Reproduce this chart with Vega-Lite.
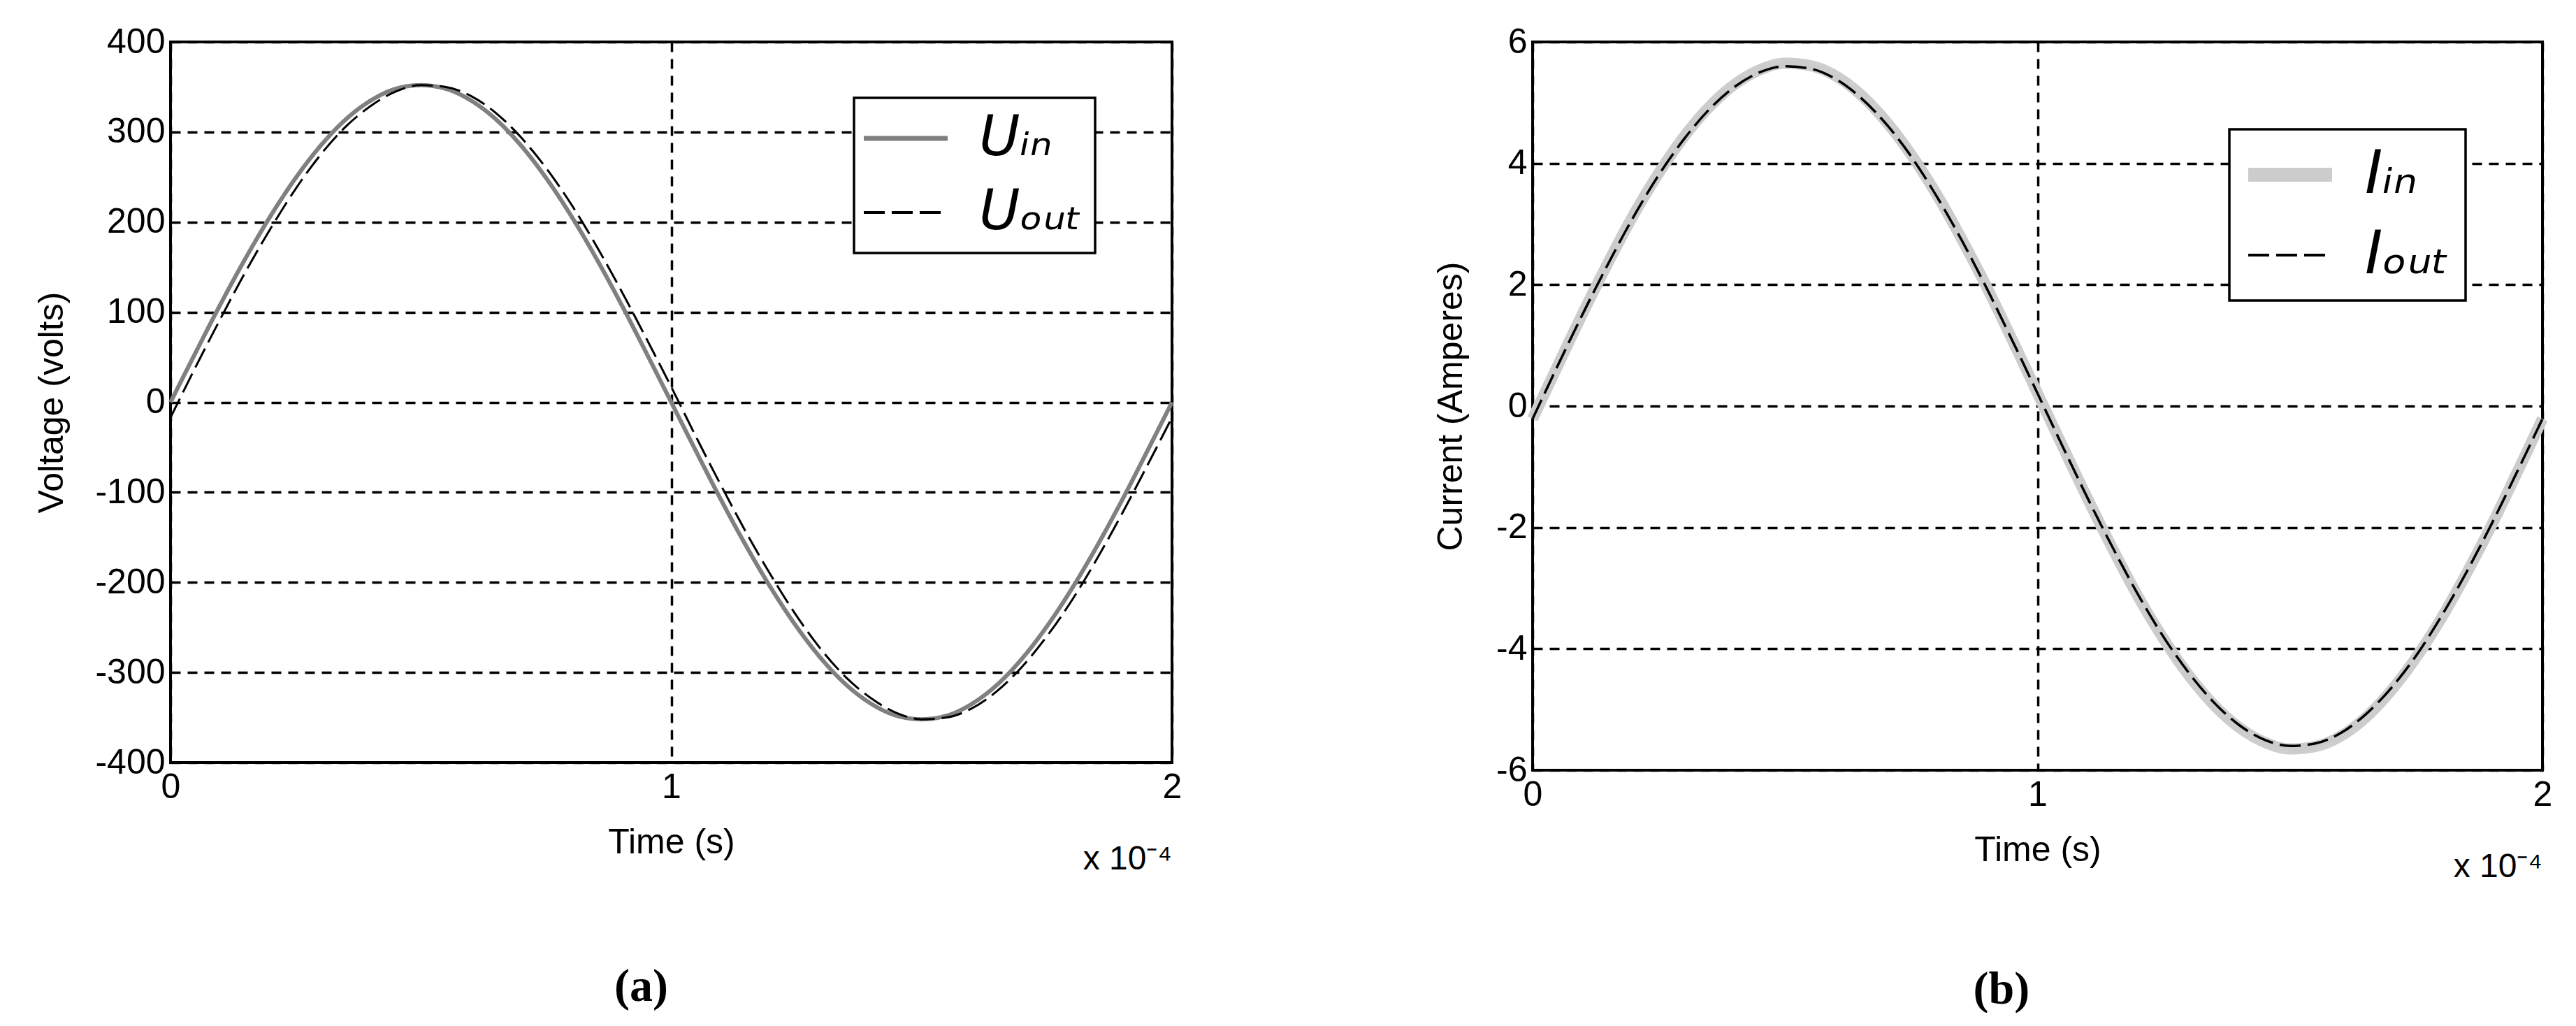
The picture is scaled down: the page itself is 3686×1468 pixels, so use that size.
{
  "$schema": "https://vega.github.io/schema/vega-lite/v6.json",
  "background": "white",
  "padding": {"left": 47, "top": 33, "right": 0, "bottom": 0},
  "spacing": 356,
  "resolve": {"scale": {"stroke": "independent", "strokeDash": "independent", "x": "independent", "y": "independent"}, "legend": {"stroke": "independent", "strokeDash": "independent"}},
  "config": {
    "font": "Liberation Sans",
    "view": {"stroke": "black", "strokeWidth": 4},
    "axis": {
      "labelFont": "Liberation Sans", "labelFontSize": 50, "labelColor": "black",
      "titleFont": "Liberation Sans", "titleFontSize": 50, "titleFontWeight": "normal", "titleColor": "black",
      "ticks": false, "domain": false, "grid": true, "gridColor": "black", "gridDash": [14, 10],
      "gridWidth": 3.5, "gridOpacity": 1, "labelFlush": false, "labelOverlap": false
    }
  },
  "hconcat": [
    {
      "title": {"text": "(a)", "orient": "bottom", "anchor": "middle", "font": "Liberation Serif", "fontSize": 66, "fontWeight": "bold", "color": "black", "offset": 124, "dx": 47},
      "vconcat": [
        {
          "title": {"text": "x 10⁻⁴", "orient": "bottom", "anchor": "end", "frame": "group", "font": "Liberation Sans", "fontSize": 48, "fontWeight": "normal", "color": "black", "offset": -24},
          "width": 1433,
          "height": 1031,
          "data": {"values": [
            {"t":0,"Uin":0,"Uout":-17},
            {"t":0.000005,"Uin":55,"Uout":39},
            {"t":0.00001,"Uin":109,"Uout":93},
            {"t":0.000015,"Uin":160,"Uout":145},
            {"t":0.00002,"Uin":207,"Uout":193},
            {"t":0.000025,"Uin":249,"Uout":237},
            {"t":0.00003,"Uin":285,"Uout":275},
            {"t":0.000035,"Uin":314,"Uout":306},
            {"t":0.00004,"Uin":335,"Uout":329},
            {"t":0.000045,"Uin":348,"Uout":345},
            {"t":0.00005,"Uin":352,"Uout":352},
            {"t":0.000055,"Uin":348,"Uout":350},
            {"t":0.00006,"Uin":335,"Uout":340},
            {"t":0.000065,"Uin":314,"Uout":321},
            {"t":0.00007,"Uin":285,"Uout":294},
            {"t":0.000075,"Uin":249,"Uout":260},
            {"t":0.00008,"Uin":207,"Uout":220},
            {"t":0.000085,"Uin":160,"Uout":174},
            {"t":0.00009,"Uin":109,"Uout":124},
            {"t":0.000095,"Uin":55,"Uout":71},
            {"t":0.0001,"Uin":0,"Uout":17},
            {"t":0.000105,"Uin":-55,"Uout":-39},
            {"t":0.00011,"Uin":-109,"Uout":-93},
            {"t":0.000115,"Uin":-160,"Uout":-145},
            {"t":0.00012,"Uin":-207,"Uout":-193},
            {"t":0.000125,"Uin":-249,"Uout":-237},
            {"t":0.00013,"Uin":-285,"Uout":-275},
            {"t":0.000135,"Uin":-314,"Uout":-306},
            {"t":0.00014,"Uin":-335,"Uout":-329},
            {"t":0.000145,"Uin":-348,"Uout":-345},
            {"t":0.00015,"Uin":-352,"Uout":-352},
            {"t":0.000155,"Uin":-348,"Uout":-350},
            {"t":0.00016,"Uin":-335,"Uout":-340},
            {"t":0.000165,"Uin":-314,"Uout":-321},
            {"t":0.00017,"Uin":-285,"Uout":-294},
            {"t":0.000175,"Uin":-249,"Uout":-260},
            {"t":0.00018,"Uin":-207,"Uout":-220},
            {"t":0.000185,"Uin":-160,"Uout":-174},
            {"t":0.00019,"Uin":-109,"Uout":-124},
            {"t":0.000195,"Uin":-55,"Uout":-71},
            {"t":0.0002,"Uin":0,"Uout":-17}
          ]},
          "transform": [{"fold": ["Uin", "Uout"], "as": ["series", "value"]}],
          "mark": {"type": "line", "interpolate": "monotone"},
          "encoding": {
            "x": {"field": "t", "type": "quantitative", "scale": {"domain": [0, 0.0002], "nice": false},
                  "axis": {"values": [0, 0.0001, 0.0002], "labelExpr": "format(datum.value*10000, '.0f')", "title": "Time (s)", "labelPadding": 10, "titlePadding": 29}},
            "y": {"field": "value", "type": "quantitative", "scale": {"domain": [-400, 400], "nice": false},
                  "axis": {"values": [-400, -300, -200, -100, 0, 100, 200, 300, 400], "labelExpr": "'' + datum.value", "title": "Voltage (volts)", "labelPadding": 8, "titlePadding": 36}},
            "stroke": {"field": "series", "type": "nominal", "scale": {"domain": ["Uin", "Uout"], "range": ["#808080", "#000000"]},
                       "legend": {"orient": "none", "legendX": 978, "legendY": 80, "title": null, "direction": "vertical",
                                  "symbolType": "stroke", "symbolSize": 14400, "symbolOffset": 16, "labelFont": "DejaVu Sans", "labelFontStyle": "italic",
                                  "labelFontSize": 80, "labelColor": "black", "labelOffset": 65, "rowPadding": 26, "padding": 18,
                                  "strokeColor": "black", "fillColor": "white",
                                  "labelExpr": "datum.value === 'Uin' ? 'Uᵢₙ' : 'Uₒᵤₜ'",
                                  "encode": {"legend": {"update": {"strokeWidth": {"value": 3.5}}},
                                             "symbols": {"update": {"strokeWidth": {"signal": "datum.value === 'Uin' ? 7 : 4"},
                                                                    "strokeDash": {"signal": "datum.value === 'Uin' ? [1, 0] : [72, 24]"}}}}}},
            "strokeDash": {"field": "series", "type": "nominal", "scale": {"domain": ["Uin", "Uout"], "range": [[1, 0], [30, 10]]}},
            "strokeWidth": {"condition": {"test": "datum.series === 'Uin'", "value": 6}, "value": 3}
          }
        }
      ]
    },
    {
      "title": {"text": "(b)", "orient": "bottom", "anchor": "middle", "font": "Liberation Serif", "fontSize": 66, "fontWeight": "bold", "color": "black", "offset": 117, "dx": 3},
      "vconcat": [
        {
          "title": {"text": "x 10⁻⁴", "orient": "bottom", "anchor": "end", "frame": "group", "font": "Liberation Sans", "fontSize": 48, "fontWeight": "normal", "color": "black", "offset": -24},
          "width": 1445,
          "height": 1042,
          "data": {"values": [
            {"t":0,"Iin":-0.21,"Iout":-0.21},
            {"t":0.000005,"Iin":0.67,"Iout":0.67},
            {"t":0.00001,"Iin":1.54,"Iout":1.53},
            {"t":0.000015,"Iin":2.37,"Iout":2.35},
            {"t":0.00002,"Iin":3.15,"Iout":3.12},
            {"t":0.000025,"Iin":3.84,"Iout":3.81},
            {"t":0.00003,"Iin":4.44,"Iout":4.40},
            {"t":0.000035,"Iin":4.93,"Iout":4.89},
            {"t":0.00004,"Iin":5.30,"Iout":5.26},
            {"t":0.000045,"Iin":5.54,"Iout":5.50},
            {"t":0.00005,"Iin":5.65,"Iout":5.60},
            {"t":0.000055,"Iin":5.61,"Iout":5.56},
            {"t":0.00006,"Iin":5.44,"Iout":5.39},
            {"t":0.000065,"Iin":5.13,"Iout":5.08},
            {"t":0.00007,"Iin":4.69,"Iout":4.65},
            {"t":0.000075,"Iin":4.14,"Iout":4.11},
            {"t":0.00008,"Iin":3.49,"Iout":3.46},
            {"t":0.000085,"Iin":2.75,"Iout":2.73},
            {"t":0.00009,"Iin":1.95,"Iout":1.93},
            {"t":0.000095,"Iin":1.09,"Iout":1.08},
            {"t":0.0001,"Iin":0.21,"Iout":0.21},
            {"t":0.000105,"Iin":-0.67,"Iout":-0.67},
            {"t":0.00011,"Iin":-1.54,"Iout":-1.53},
            {"t":0.000115,"Iin":-2.37,"Iout":-2.35},
            {"t":0.00012,"Iin":-3.15,"Iout":-3.12},
            {"t":0.000125,"Iin":-3.84,"Iout":-3.81},
            {"t":0.00013,"Iin":-4.44,"Iout":-4.40},
            {"t":0.000135,"Iin":-4.93,"Iout":-4.89},
            {"t":0.00014,"Iin":-5.30,"Iout":-5.26},
            {"t":0.000145,"Iin":-5.54,"Iout":-5.50},
            {"t":0.00015,"Iin":-5.65,"Iout":-5.60},
            {"t":0.000155,"Iin":-5.61,"Iout":-5.56},
            {"t":0.00016,"Iin":-5.44,"Iout":-5.39},
            {"t":0.000165,"Iin":-5.13,"Iout":-5.08},
            {"t":0.00017,"Iin":-4.69,"Iout":-4.65},
            {"t":0.000175,"Iin":-4.14,"Iout":-4.11},
            {"t":0.00018,"Iin":-3.49,"Iout":-3.46},
            {"t":0.000185,"Iin":-2.75,"Iout":-2.73},
            {"t":0.00019,"Iin":-1.95,"Iout":-1.93},
            {"t":0.000195,"Iin":-1.09,"Iout":-1.08},
            {"t":0.0002,"Iin":-0.21,"Iout":-0.21}
          ]},
          "transform": [{"fold": ["Iin", "Iout"], "as": ["series", "value"]}],
          "mark": {"type": "line", "interpolate": "monotone"},
          "encoding": {
            "x": {"field": "t", "type": "quantitative", "scale": {"domain": [0, 0.0002], "nice": false},
                  "axis": {"values": [0, 0.0001, 0.0002], "labelExpr": "format(datum.value*10000, '.0f')", "title": "Time (s)", "labelPadding": 10, "titlePadding": 29}},
            "y": {"field": "value", "type": "quantitative", "scale": {"domain": [-6, 6], "nice": false},
                  "axis": {"values": [-6, -4, -2, 0, 2, 4, 6], "labelExpr": "'' + datum.value", "title": "Current (Amperes)", "labelPadding": 8, "titlePadding": 39}},
            "stroke": {"field": "series", "type": "nominal", "scale": {"domain": ["Iin", "Iout"], "range": ["#cccccc", "#000000"]},
                       "legend": {"orient": "none", "legendX": 997, "legendY": 125, "title": null, "direction": "vertical",
                                  "symbolType": "stroke", "symbolSize": 14400, "symbolOffset": 22, "labelFont": "DejaVu Sans", "labelFontStyle": "italic",
                                  "labelFontSize": 86, "labelColor": "black", "labelOffset": 64, "rowPadding": 29, "padding": 22,
                                  "strokeColor": "black", "fillColor": "white",
                                  "labelExpr": "datum.value === 'Iin' ? 'Iᵢₙ' : 'Iₒᵤₜ'",
                                  "encode": {"legend": {"update": {"strokeWidth": {"value": 3.5}}},
                                             "symbols": {"update": {"strokeWidth": {"signal": "datum.value === 'Iin' ? 20 : 4"},
                                                                    "strokeDash": {"signal": "datum.value === 'Iin' ? [1, 0] : [72, 24]"}}}}}},
            "strokeDash": {"field": "series", "type": "nominal", "scale": {"domain": ["Iin", "Iout"], "range": [[1, 0], [30, 10]]}},
            "strokeWidth": {"condition": {"test": "datum.series === 'Iin'", "value": 16}, "value": 3.5}
          }
        }
      ]
    }
  ]
}
